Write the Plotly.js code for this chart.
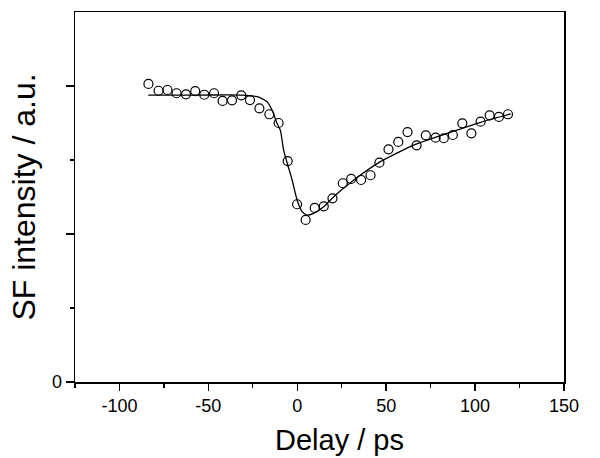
<!DOCTYPE html>
<html>
<head>
<meta charset="utf-8">
<script src="https://cdn.plot.ly/plotly-3.0.1.min.js"></script>
<style>html,body{margin:0;padding:0;background:#fff;}#chart{width:600px;height:458px;}</style>
</head>
<body>
<div id="chart"></div>
<script>
// Measured data points (delay in ps, SF intensity in a.u.)
var delay = [-83.7,-78.0,-73.0,-67.9,-62.6,-57.4,-52.3,-46.8,-42.0,-36.7,-31.5,-26.6,-21.3,-15.7,-10.5,-5.4,-0.1,4.7,9.8,14.9,19.8,25.6,30.3,35.9,41.2,46.2,51.3,56.8,62.0,67.1,72.3,77.8,82.4,87.5,92.8,97.9,103.1,108.2,113.4,118.5];
var intensity = [2.014,1.968,1.973,1.951,1.944,1.966,1.941,1.951,1.899,1.903,1.937,1.905,1.849,1.809,1.750,1.493,1.201,1.095,1.176,1.187,1.241,1.343,1.372,1.365,1.397,1.482,1.572,1.622,1.689,1.599,1.667,1.651,1.647,1.669,1.748,1.680,1.759,1.802,1.791,1.809];
// Fitted curve
var fitDelay = [-83.8,-54.6,-32.0,-22.6,-17.0,-14.2,-11.4,-9.5,-7.7,-5.7,-2.9,-0.1,2.7,5.5,9.2,14.9,20.5,31.8,46.8,65.5,84.3,103.1,120.0];
var fitIntensity = [1.939,1.939,1.939,1.928,1.894,1.838,1.748,1.700,1.568,1.480,1.365,1.230,1.151,1.128,1.140,1.184,1.252,1.365,1.489,1.601,1.680,1.755,1.811];
var xTicks = [-100,-50,0,50,100,150];
var xTickText = ['-100','-50','0','50','100','150'];
var yTicks = [0,1,2];
var yTickText = ['0','',''];

var font = 'Arial, "Liberation Sans", Helvetica, sans-serif';
var traces = [
  {x: fitDelay, y: fitIntensity, type: 'scatter', mode: 'lines', line: {color: '#000', width: 1.3, shape: 'spline', smoothing: 0.6}, hoverinfo: 'skip'},
  {x: delay, y: intensity, type: 'scatter', mode: 'markers', marker: {symbol: 'circle-open', size: 9, color: '#000', line: {width: 1.2, color: '#000'}}}
];
var layout = {
  width: 600, height: 458,
  margin: {l: 75, r: 36, t: 12, b: 76},
  paper_bgcolor: '#fff', plot_bgcolor: '#fff',
  showlegend: false,
  font: {family: font, color: '#000'},
  xaxis: {
    range: [-125, 150], tickvals: xTicks, ticktext: xTickText, ticks: 'outside', ticklen: 7, tickwidth: 1.5, tickcolor: '#000',
    showline: true, linecolor: '#000', linewidth: 1.5, mirror: true, showgrid: false, zeroline: false,
    tickfont: {size: 18, family: font},
    minor: {tickvals: [-125,-75,-25,25,75,125], ticks: 'outside', ticklen: 4, tickwidth: 1.3, tickcolor: '#000'}
  },
  yaxis: {
    range: [0, 2.5], tickvals: yTicks, ticktext: yTickText, ticks: 'outside', ticklen: 8, tickwidth: 1.5, tickcolor: '#000',
    showline: true, linecolor: '#000', linewidth: 1.5, mirror: true, showgrid: false, zeroline: false,
    tickfont: {size: 18, family: font},
    minor: {tickvals: [0.5, 1.5], ticks: 'outside', ticklen: 4, tickwidth: 1.3, tickcolor: '#000'},
    title: {text: 'SF intensity / a.u.', font: {size: 32, family: font}, standoff: 6}
  },
  annotations: [
    {text: 'Delay / ps', xref: 'paper', yref: 'paper', x: 0.54, y: -0.157, xanchor: 'center', yanchor: 'middle',
     showarrow: false, font: {size: 29, family: font, color: '#000'}}
  ]
};
Plotly.newPlot('chart', traces, layout, {staticPlot: true, displayModeBar: false});
</script>
</body>
</html>
